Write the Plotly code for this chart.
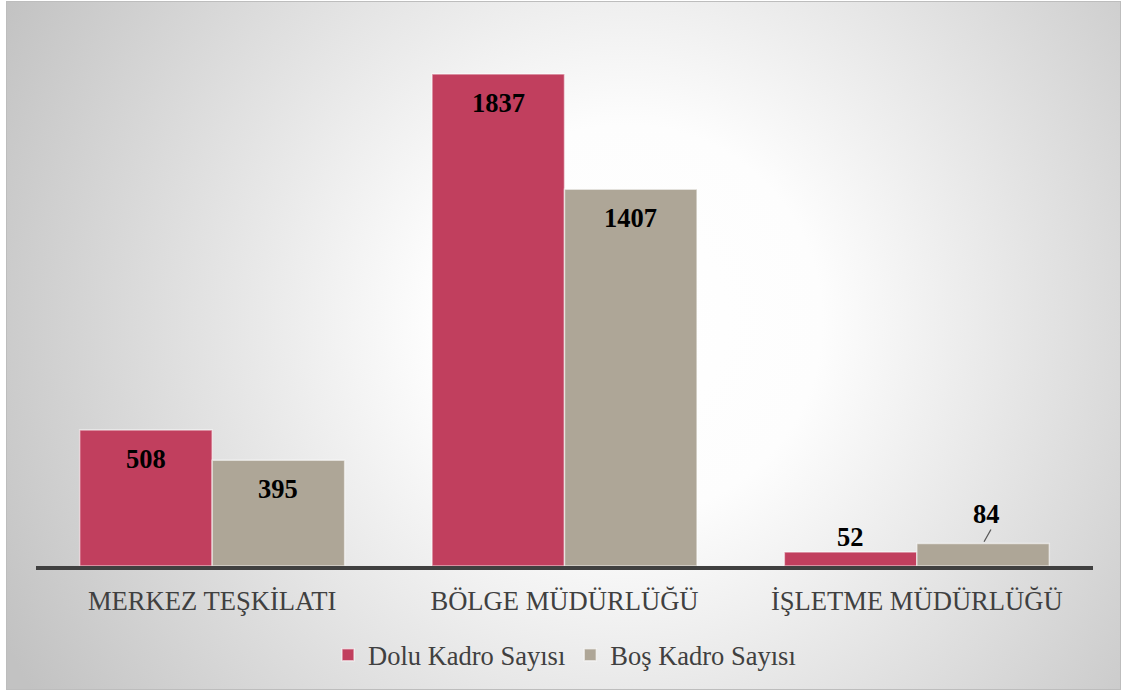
import base64
import plotly.graph_objects as go

# ---- data ----
categories = ["MERKEZ TEŞKİLATI", "BÖLGE MÜDÜRLÜĞÜ", "İŞLETME MÜDÜRLÜĞÜ"]
dolu_values = [508, 1837, 52]
bos_values = [395, 1407, 84]
series_names = ["Dolu Kadro Sayısı", "Boş Kadro Sayısı"]

# ---- style ----
W, H = 1121, 692
ML, MR, MT, MB = 36, 28, 40, 126
PW, PH = W - ML - MR, H - MT - MB
YMAX = 1964
BARGAP = 0.248
colors = ["#C13F5E", "#AEA697"]
FONT = "Liberation Serif, Times New Roman, serif"

# radial gradient background as svg
svg = f'''<svg xmlns="http://www.w3.org/2000/svg" width="1115" height="689" viewBox="0 0 1115 689">
<defs><radialGradient id="g" gradientUnits="userSpaceOnUse" cx="620" cy="320" r="700">
<stop offset="0" stop-color="#ffffff"/><stop offset="0.28" stop-color="#fdfdfd"/>
<stop offset="1" stop-color="#c2c2c2"/></radialGradient></defs>
<rect x="0.5" y="0.5" width="1114" height="688" fill="url(#g)" stroke="#bdbdbd" stroke-width="1"/>
</svg>'''
src = "data:image/svg+xml;base64," + base64.b64encode(svg.encode()).decode()

fig = go.Figure()
for name, vals, col in zip(series_names, [dolu_values, bos_values], colors):
    fig.add_trace(go.Bar(
        name=name, x=categories, y=vals,
        marker=dict(color=col, line=dict(color="rgba(255,255,255,0.55)", width=1.5)),
        hoverinfo="x+y",
    ))

# data labels
cat_w = PW / len(categories)
bar_w = cat_w * (1 - BARGAP) / 2
offsets = [-bar_w / 2, bar_w / 2]
maxv = max(dolu_values + bos_values)
annotations = []
for si, vals in enumerate([dolu_values, bos_values]):
    for cat, v in zip(categories, vals):
        a = dict(x=cat, y=v, text=f"<b>{v}</b>", xref="x", yref="y",
                 xshift=offsets[si], showarrow=False,
                 font=dict(family=FONT, size=26.5, color="#000000"),
                 yanchor="middle")
        if v > 0.1 * maxv:
            a["yshift"] = -29
        elif si == 0:
            a["yshift"] = 15
        else:
            a["yshift"] = 30
            a["xshift"] = offsets[si] + 3
            # leader line from label to bar top
            annotations.append(dict(
                x=cat, y=v, xref="x", yref="y", xshift=offsets[si],
                text=" ", font=dict(size=1), showarrow=True, arrowhead=0,
                arrowwidth=1.3, arrowcolor="#595959", ax=9, ay=-16, standoff=2))
        annotations.append(a)

fig.update_layout(
    width=W, height=H,
    margin=dict(l=ML, r=MR, t=MT, b=MB, pad=0),
    paper_bgcolor="#ffffff", plot_bgcolor="rgba(0,0,0,0)",
    barmode="group", bargap=BARGAP, bargroupgap=0,
    font=dict(family=FONT, size=26.5, color="#404040"),
    xaxis=dict(showline=True, linecolor="#404040", linewidth=3.5,
               ticks="", showgrid=False, zeroline=False,
               tickfont=dict(family=FONT, size=26.6, color="#404040"),
               ticklabelstandoff=8),
    yaxis=dict(visible=False, range=[0, YMAX], fixedrange=True),
    legend=dict(orientation="h", x=0.5, xanchor="center",
                y=-(655 - (MT + PH)) / PH,
                yanchor="middle", font=dict(family=FONT, size=26.5, color="#404040"),
                bgcolor="rgba(0,0,0,0)", itemclick=False, itemdoubleclick=False),
    annotations=annotations,
    images=[dict(source=src, xref="paper", yref="paper",
                 x=(6 - ML) / PW, y=(MT + PH - 1) / PH,
                 sizex=1115 / PW, sizey=689 / PH,
                 xanchor="left", yanchor="top", sizing="stretch", layer="below")],
    showlegend=True,
)

fig.write_html("out.html", config={"displayModeBar": False},
               post_script="document.body.style.margin='0';")
